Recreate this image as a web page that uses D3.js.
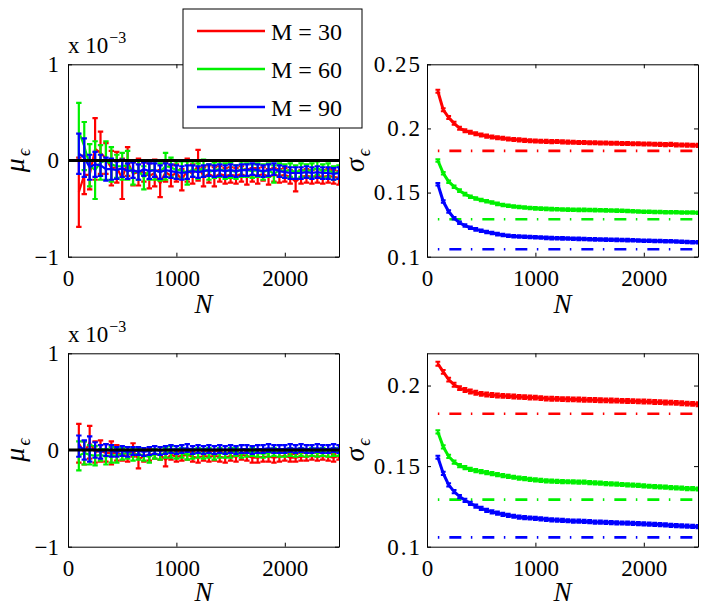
<!DOCTYPE html>
<html>
<head>
<meta charset="utf-8">
<script src="https://cdn.jsdelivr.net/npm/d3@7"></script>
<style>
  html, body { margin: 0; padding: 0; background: #fff; }
  svg { display: block; }
  text { font-family: "Liberation Serif", "Times New Roman", "DejaVu Serif", serif; fill: #000; }
</style>
</head>
<body>
<svg id="chart" width="708" height="612"></svg>
<script>
// ---------------- DATA ----------------
const N = [100,150,200,250,300,350,400,450,500,550,600,650,700,750,800,850,900,950,1000,
  1050,1100,1150,1200,1250,1300,1350,1400,1450,1500,1550,1600,1650,1700,1750,1800,1850,1900,
  1950,2000,2050,2100,2150,2200,2250,2300,2350,2400,2450,2500];

const seriesLabels = ["M = 30", "M = 60", "M = 90"];
const seriesColors = ["#ff0000", "#00f000", "#0000ff"];

// Top-left: mean error (x 10^-3) and error bar half-length
const muTopM30 = [-0.33,-0.15,-0.15,0.12,0.08,0.02,-0.08,-0.07,-0.19,-0.01,-0.14,-0.12,-0.12,-0.16,-0.13,-0.24,-0.12,-0.16,-0.13,
  -0.20,-0.10,-0.14,-0.05,-0.17,-0.14,-0.17,-0.14,-0.16,-0.15,-0.16,-0.14,-0.17,-0.15,-0.16,-0.14,-0.17,-0.15,
  -0.16,-0.15,-0.17,-0.22,-0.17,-0.16,-0.17,-0.16,-0.17,-0.16,-0.17,-0.18];
const muTopErrM30 = [0.36,0.20,0.15,0.32,0.22,0.16,0.18,0.16,0.21,0.15,0.12,0.14,0.10,0.13,0.14,0.14,0.10,0.11,0.09,
  0.11,0.12,0.10,0.16,0.10,0.09,0.10,0.08,0.08,0.08,0.08,0.08,0.08,0.07,0.08,0.07,0.08,0.07,
  0.07,0.07,0.07,0.10,0.07,0.07,0.07,0.07,0.07,0.07,0.07,0.07];
const muTopM60 = [0.30,0.15,-0.05,-0.10,-0.02,0.00,-0.04,-0.06,-0.06,-0.05,-0.13,-0.10,-0.18,-0.10,-0.10,-0.12,-0.06,-0.07,-0.10,
  -0.10,-0.13,-0.09,-0.11,-0.08,-0.12,-0.10,-0.09,-0.11,-0.10,-0.12,-0.09,-0.10,-0.11,-0.10,-0.12,-0.10,-0.14,
  -0.10,-0.11,-0.10,-0.12,-0.10,-0.11,-0.10,-0.08,-0.11,-0.10,-0.13,-0.12];
const muTopErrM60 = [0.30,0.25,0.22,0.30,0.18,0.20,0.18,0.12,0.14,0.15,0.12,0.10,0.12,0.10,0.10,0.09,0.14,0.10,0.09,
  0.09,0.12,0.08,0.08,0.09,0.08,0.08,0.08,0.08,0.08,0.07,0.08,0.07,0.07,0.07,0.08,0.07,0.09,
  0.07,0.07,0.07,0.07,0.07,0.07,0.07,0.07,0.07,0.07,0.07,0.07];
const muTopM90 = [0.07,0.03,-0.07,-0.04,-0.05,-0.09,-0.09,-0.10,-0.08,-0.11,-0.10,-0.12,-0.09,-0.11,-0.10,-0.12,-0.10,-0.11,-0.12,
  -0.13,-0.12,-0.11,-0.12,-0.11,-0.10,-0.11,-0.10,-0.11,-0.10,-0.11,-0.10,-0.10,-0.09,-0.10,-0.11,-0.10,-0.09,
  -0.11,-0.12,-0.13,-0.13,-0.13,-0.12,-0.13,-0.12,-0.13,-0.13,-0.14,-0.13];
const muTopErrM90 = [0.21,0.20,0.13,0.13,0.11,0.12,0.11,0.09,0.09,0.08,0.08,0.08,0.07,0.08,0.07,0.07,0.07,0.07,0.07,
  0.07,0.07,0.06,0.06,0.06,0.06,0.06,0.06,0.06,0.06,0.06,0.06,0.06,0.06,0.06,0.06,0.06,0.06,
  0.06,0.06,0.06,0.06,0.06,0.06,0.06,0.06,0.06,0.06,0.06,0.06];

// Bottom-left
const muBotM30 = [0.07,-0.03,0.08,-0.02,-0.01,-0.03,-0.03,-0.03,-0.05,-0.06,0.00,-0.10,-0.06,-0.05,-0.04,-0.05,-0.10,-0.05,-0.07,
  -0.06,-0.05,-0.07,-0.08,-0.06,-0.07,-0.06,-0.07,-0.08,-0.06,-0.07,-0.05,-0.06,-0.08,-0.08,-0.07,-0.07,-0.08,
  -0.07,-0.06,-0.08,-0.08,-0.07,-0.07,-0.06,-0.07,-0.06,-0.07,-0.08,-0.06];
const muBotErrM30 = [0.20,0.12,0.17,0.11,0.11,0.09,0.12,0.08,0.06,0.06,0.07,0.09,0.06,0.06,0.05,0.05,0.07,0.05,0.05,
  0.05,0.05,0.05,0.05,0.05,0.05,0.05,0.05,0.05,0.05,0.05,0.05,0.05,0.05,0.05,0.05,0.05,0.05,
  0.05,0.05,0.04,0.04,0.04,0.04,0.04,0.04,0.04,0.04,0.04,0.04];
const muBotM60 = [-0.06,-0.03,-0.05,-0.06,-0.05,-0.07,-0.05,-0.06,-0.04,-0.03,-0.05,-0.04,-0.06,-0.07,-0.04,-0.05,-0.03,-0.02,-0.04,
  -0.03,-0.05,-0.04,-0.03,-0.04,-0.03,-0.05,-0.03,-0.04,-0.03,-0.02,-0.04,-0.03,-0.02,-0.03,-0.04,-0.03,-0.02,
  -0.03,-0.03,-0.02,-0.03,-0.02,-0.03,-0.02,-0.03,-0.02,-0.03,-0.02,-0.02];
const muBotErrM60 = [0.15,0.12,0.10,0.10,0.06,0.08,0.08,0.07,0.06,0.06,0.06,0.06,0.05,0.06,0.05,0.05,0.05,0.06,0.05,
  0.05,0.05,0.05,0.05,0.05,0.05,0.05,0.05,0.04,0.05,0.04,0.04,0.04,0.04,0.04,0.04,0.04,0.04,
  0.04,0.04,0.04,0.04,0.04,0.04,0.04,0.04,0.04,0.04,0.04,0.04];
const muBotM90 = [0.04,0.00,0.01,0.00,-0.02,0.00,-0.01,-0.02,-0.01,-0.02,-0.01,-0.01,-0.02,-0.01,0.00,-0.01,0.00,0.01,0.00,
  0.01,0.02,0.00,0.01,0.00,0.01,0.00,0.01,0.00,0.01,0.00,0.01,0.01,0.00,0.01,0.01,0.02,0.01,
  0.01,0.01,0.02,0.01,0.02,0.01,0.01,0.02,0.01,0.01,0.02,0.01];
const muBotErrM90 = [0.11,0.10,0.13,0.08,0.07,0.06,0.06,0.05,0.05,0.05,0.04,0.04,0.04,0.04,0.04,0.04,0.04,0.04,0.04,
  0.04,0.04,0.04,0.04,0.04,0.04,0.04,0.04,0.04,0.04,0.04,0.04,0.04,0.04,0.04,0.04,0.04,0.04,
  0.04,0.04,0.04,0.04,0.04,0.04,0.04,0.04,0.04,0.04,0.04,0.04];

// Top-right: standard deviation of error
const sigTopM30 = [0.2290,0.2145,0.2085,0.2040,0.2002,0.1982,0.1970,0.1958,0.1949,0.1940,0.1933,0.1928,0.1923,0.1918,0.1914,0.1911,0.1907,0.1904,0.1902,
  0.1900,0.1899,0.1897,0.1898,0.1895,0.1893,0.1892,0.1891,0.1890,0.1889,0.1888,0.1887,0.1886,0.1885,0.1884,0.1882,0.1883,0.1881,
  0.1880,0.1879,0.1878,0.1877,0.1876,0.1874,0.1876,0.1872,0.1871,0.1870,0.1869,0.1868];
const sigTopM60 = [0.1750,0.1650,0.1585,0.1546,0.1515,0.1488,0.1468,0.1454,0.1442,0.1432,0.1423,0.1412,0.1403,0.1397,0.1392,0.1387,0.1383,0.1380,0.1377,
  0.1375,0.1373,0.1371,0.1370,0.1368,0.1367,0.1366,0.1365,0.1365,0.1364,0.1363,0.1362,0.1361,0.1360,0.1359,0.1358,0.1357,0.1355,
  0.1353,0.1351,0.1350,0.1349,0.1348,0.1347,0.1347,0.1346,0.1345,0.1345,0.1344,0.1343];
const sigTopM90 = [0.1565,0.1430,0.1352,0.1300,0.1265,0.1243,0.1226,0.1213,0.1203,0.1193,0.1185,0.1176,0.1169,0.1164,0.1160,0.1157,0.1155,0.1153,0.1151,
  0.1149,0.1147,0.1145,0.1144,0.1143,0.1142,0.1140,0.1139,0.1138,0.1136,0.1135,0.1134,0.1133,0.1132,0.1131,0.1130,0.1129,0.1128,
  0.1127,0.1125,0.1124,0.1123,0.1122,0.1121,0.1120,0.1118,0.1117,0.1115,0.1113,0.1112];
// Bottom-right
const sigBotM30 = [0.2135,0.2085,0.2037,0.2005,0.1984,0.1972,0.1963,0.1955,0.1948,0.1944,0.1941,0.1938,0.1936,0.1934,0.1932,0.1930,0.1928,0.1926,0.1925,
  0.1922,0.1919,0.1918,0.1917,0.1916,0.1915,0.1914,0.1913,0.1912,0.1911,0.1910,0.1909,0.1908,0.1907,0.1906,0.1905,0.1904,0.1903,
  0.1902,0.1901,0.1900,0.1898,0.1897,0.1895,0.1894,0.1892,0.1890,0.1888,0.1886,0.1884];
const sigBotM60 = [0.1712,0.1620,0.1560,0.1525,0.1503,0.1490,0.1480,0.1472,0.1466,0.1459,0.1453,0.1447,0.1441,0.1436,0.1431,0.1426,0.1422,0.1418,0.1414,
  0.1411,0.1409,0.1407,0.1405,0.1404,0.1403,0.1402,0.1401,0.1400,0.1398,0.1396,0.1394,0.1392,0.1390,0.1388,0.1386,0.1384,0.1382,
  0.1380,0.1377,0.1375,0.1373,0.1371,0.1369,0.1367,0.1365,0.1363,0.1361,0.1360,0.1358];
const sigBotM90 = [0.1555,0.1455,0.1383,0.1342,0.1311,0.1288,0.1269,0.1252,0.1238,0.1226,0.1216,0.1208,0.1201,0.1195,0.1189,0.1184,0.1180,0.1178,0.1176,
  0.1173,0.1170,0.1167,0.1165,0.1163,0.1161,0.1159,0.1158,0.1157,0.1155,0.1153,0.1152,0.1151,0.1150,0.1148,0.1147,0.1146,0.1145,
  0.1143,0.1141,0.1140,0.1139,0.1137,0.1135,0.1133,0.1131,0.1129,0.1127,0.1126,0.1124];
const sigErr = [0.0012, 0.0010, 0.0010];
// Theoretical (dash-dot) reference levels
const sigRef = [0.1825, 0.1292, 0.1058];
const refN = [100, 2500];

const xTicks = [0, 1000, 2000];
const muTicks = [-1, 0, 1];
const sigTopTicks = [0.1, 0.15, 0.2, 0.25];
const sigBotTicks = [0.1, 0.15, 0.2];

// ---------------- DRAW ----------------
const svg = d3.select("#chart");
const SERIF = "'Liberation Serif', 'Times New Roman', 'DejaVu Serif', serif";
const TICK_FS = 23;

function makePanel(id, box, yDomain, yTicks) {
  const x = d3.scaleLinear().domain([0, 2500]).range([box.x0, box.x1]);
  const y = d3.scaleLinear().domain(yDomain).range([box.y1, box.y0]);
  const g = svg.append("g");
  g.append("clipPath").attr("id", "clip" + id)
    .append("rect").attr("x", box.x0).attr("y", box.y0)
    .attr("width", box.x1 - box.x0).attr("height", box.y1 - box.y0);
  const plot = g.append("g").attr("clip-path", `url(#clip${id})`);
  return { x, y, g, plot, box, yTicks };
}

function drawAxes(p, fmt, ySpacing, yPad) {
  const { x, y, g, box, yTicks } = p;
  const fr = g.append("g");
  fr.append("g").attr("transform", `translate(0,${box.y1})`)
    .call(d3.axisBottom(x).tickValues(xTicks).tickSizeInner(-4).tickSizeOuter(0).tickPadding(13).tickFormat(d3.format("d")));
  fr.append("g").attr("transform", `translate(0,${box.y0})`)
    .call(d3.axisTop(x).tickValues(xTicks).tickSizeInner(-4).tickSizeOuter(0).tickFormat(""));
  const left = fr.append("g").attr("transform", `translate(${box.x0},0)`)
    .call(d3.axisLeft(y).tickValues(yTicks).tickSizeInner(-4).tickSizeOuter(0).tickPadding(yPad).tickFormat(fmt));
  fr.append("g").attr("transform", `translate(${box.x1},0)`)
    .call(d3.axisRight(y).tickValues(yTicks).tickSizeInner(-4).tickSizeOuter(0).tickFormat(""));
  fr.selectAll("g").attr("font-family", null);
  fr.selectAll(".domain").attr("stroke", "#000").attr("stroke-width", 1);
  fr.selectAll(".tick line").attr("stroke", "#000").attr("stroke-width", 1);
  fr.selectAll(".tick text")
    .style("font-family", SERIF)
    .style("font-size", TICK_FS + "px").attr("fill", "#000");
  left.selectAll(".tick text").style("letter-spacing", ySpacing + "px");
}

function drawErrorSeries(p, means, errs, color) {
  const { x, y, plot } = p;
  const pts = N.map((n, i) => ({ n, m: means[i], e: errs[i] }));
  const capW = 2.7;
  const gs = plot.append("g").attr("stroke", color).attr("fill", "none").attr("stroke-width", 2.2);
  gs.append("path").datum(pts)
    .attr("d", d3.line().x(d => x(d.n)).y(d => y(d.m)));
  const eb = gs.selectAll("g.eb").data(pts).join("g");
  eb.append("line").attr("x1", d => x(d.n)).attr("x2", d => x(d.n))
    .attr("y1", d => y(d.m - d.e)).attr("y2", d => y(d.m + d.e));
  eb.append("line").attr("x1", d => x(d.n) - capW).attr("x2", d => x(d.n) + capW)
    .attr("y1", d => y(d.m - d.e)).attr("y2", d => y(d.m - d.e));
  eb.append("line").attr("x1", d => x(d.n) - capW).attr("x2", d => x(d.n) + capW)
    .attr("y1", d => y(d.m + d.e)).attr("y2", d => y(d.m + d.e));
}

function drawSigmaSeries(p, vals, err, ref, color) {
  const { x, y, plot } = p;
  const pts = N.map((n, i) => ({ n, v: vals[i] }));
  const gs = plot.append("g").attr("stroke", color).attr("fill", "none");
  gs.append("path").datum(refN)
    .attr("d", d3.line().x(n => x(n)).y(() => y(ref)))
    .attr("stroke-width", 2.6).attr("stroke-dasharray", "1.5,10,12,9.5");
  gs.append("path").datum(pts).attr("stroke-width", 3)
    .attr("d", d3.line().x(d => x(d.n)).y(d => y(d.v)));
  const capW = 2.4;
  const eb = gs.selectAll("g.eb").data(pts).join("g").attr("stroke-width", 2);
  eb.append("line").attr("x1", d => x(d.n)).attr("x2", d => x(d.n))
    .attr("y1", d => y(d.v - err)).attr("y2", d => y(d.v + err));
  eb.append("line").attr("x1", d => x(d.n) - capW).attr("x2", d => x(d.n) + capW)
    .attr("y1", d => y(d.v - err)).attr("y2", d => y(d.v - err));
  eb.append("line").attr("x1", d => x(d.n) - capW).attr("x2", d => x(d.n) + capW)
    .attr("y1", d => y(d.v + err)).attr("y2", d => y(d.v + err));
}

function yLabel(p, sym, cx) {
  const cy = (p.box.y0 + p.box.y1) / 2;
  const t = svg.append("text")
    .attr("transform", `translate(${cx},${cy}) rotate(-90)`)
    .attr("text-anchor", "middle")
    .attr("font-size", 28).attr("font-style", "italic");
  t.append("tspan").text(sym);
  t.append("tspan").attr("font-size", 18).attr("dy", 6).attr("dx", 2).text("ϵ");
}

function xLabel(p, by) {
  svg.append("text")
    .attr("x", (p.box.x0 + p.box.x1) / 2).attr("y", by)
    .attr("text-anchor", "middle")
    .attr("font-size", 27).attr("font-style", "italic").text("N");
}

function scaleNote(p) {
  const t = svg.append("text").attr("x", p.box.x0).attr("y", p.box.y0 - 11)
    .attr("font-size", 23);
  t.append("tspan").text("x 10");
  t.append("tspan").attr("font-size", 16).attr("dy", -10).attr("dx", 1).text("−3");
}

const leftX = { x0: 68, x1: 339 };
const rightX = { x0: 427, x1: 698 };
const topY = { y0: 64.3, y1: 256.7 };
const botY = { y0: 353.3, y1: 546.7 };

const pTL = makePanel("TL", { ...leftX, ...topY }, [-1, 1], muTicks);
const pTR = makePanel("TR", { ...rightX, ...topY }, [0.1, 0.25], sigTopTicks);
const pBL = makePanel("BL", { ...leftX, ...botY }, [-1, 1], muTicks);
const pBR = makePanel("BR", { ...rightX, ...botY }, [0.1, 0.22], sigBotTicks);

const muTop = [[muTopM30, muTopErrM30], [muTopM60, muTopErrM60], [muTopM90, muTopErrM90]];
const muBot = [[muBotM30, muBotErrM30], [muBotM60, muBotErrM60], [muBotM90, muBotErrM90]];
const sigTop = [sigTopM30, sigTopM60, sigTopM90];
const sigBot = [sigBotM30, sigBotM60, sigBotM90];

[[pTL, muTop], [pBL, muBot]].forEach(([p, data]) => {
  data.forEach(([m, e], i) => drawErrorSeries(p, m, e, seriesColors[i]));
  p.plot.append("line")
    .attr("x1", p.x(0)).attr("x2", p.x(2500))
    .attr("y1", p.y(0)).attr("y2", p.y(0))
    .attr("stroke", "#000").attr("stroke-width", 2.8);
  drawAxes(p, d3.format("d"), 0, 9);
  scaleNote(p);
  yLabel(p, "μ", 24);
});
[[pTR, sigTop], [pBR, sigBot]].forEach(([p, data]) => {
  data.forEach((v, i) => drawSigmaSeries(p, v, sigErr[i], sigRef[i], seriesColors[i]));
  drawAxes(p, d3.format("~g"), 2, 5);
  yLabel(p, "σ", 364);
});
xLabel(pTL, 313); xLabel(pTR, 313);
xLabel(pBL, 601); xLabel(pBR, 601);

// Legend
const lg = svg.append("g");
lg.append("rect").attr("x", 183).attr("y", 9).attr("width", 179).attr("height", 119)
  .attr("fill", "#fff").attr("stroke", "#000").attr("stroke-width", 1);
seriesLabels.forEach((lab, i) => {
  const cy = 31 + i * 38;
  lg.append("line").attr("x1", 197).attr("x2", 265).attr("y1", cy).attr("y2", cy)
    .attr("stroke", seriesColors[i]).attr("stroke-width", 2.5);
  lg.append("text").attr("x", 271).attr("y", cy + 9).attr("font-size", 24).text(lab);
});
</script>
</body>
</html>
